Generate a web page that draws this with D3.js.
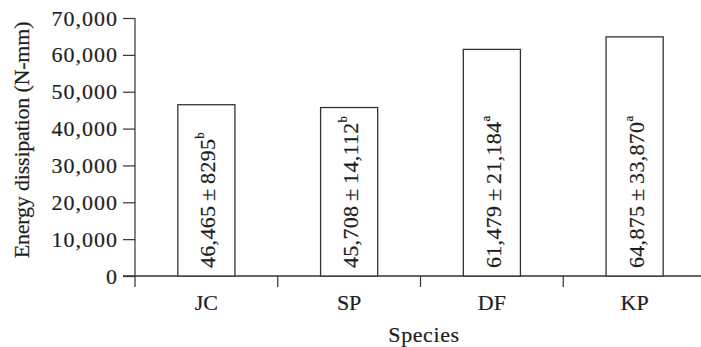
<!DOCTYPE html>
<html>
<head>
<meta charset="utf-8">
<script src="https://cdn.jsdelivr.net/npm/d3@7"></script>
<style>
  body { margin: 0; background: #fff; }
  svg text { font-family: "Liberation Serif", "Times New Roman", serif; fill: #1e1e1e; stroke: #1e1e1e; stroke-width: 0.2px; }
</style>
</head>
<body>
<svg id="chart" width="701" height="347"></svg>
<script>
// data
const species = ['JC', 'SP', 'DF', 'KP'];
const means = [46465, 45708, 61479, 64875];
const sds = [8295, 14112, 21184, 33870];
const groups = ['b', 'b', 'a', 'a'];
const yTicks = [0, 10000, 20000, 30000, 40000, 50000, 60000, 70000];

const svg = d3.select('#chart');
const axisColor = '#333';

// scales
const x = d3.scaleBand()
  .domain(species)
  .range([135, 706])
  .paddingInner(0.6)
  .paddingOuter(0.3);

const y = d3.scaleLinear()
  .domain([0, 70000])
  .range([276, 18]);

// y axis
const yAxis = svg.append('g')
  .attr('transform', 'translate(135,0)')
  .call(d3.axisLeft(y).tickValues(yTicks).tickFormat(d3.format(',')).tickSize(12).tickSizeOuter(0));
yAxis.select('.domain').remove();
yAxis.selectAll('.tick line').attr('stroke', axisColor).attr('stroke-width', 1.2);
yAxis.selectAll('.tick text')
  .attr('x', -17)
  .attr('font-size', 22)
  .attr('letter-spacing', 1)
  .attr('fill', '#1e1e1e');

// vertical axis line, running a bit below zero
svg.append('line')
  .attr('x1', 135).attr('x2', 135)
  .attr('y1', y(70000)).attr('y2', 287)
  .attr('stroke', axisColor).attr('stroke-width', 1.2);

// x axis line
svg.append('line')
  .attr('x1', 123).attr('x2', 701)
  .attr('y1', y(0)).attr('y2', y(0))
  .attr('stroke', axisColor).attr('stroke-width', 1.4);

// ticks between categories
const half = x.step() * x.paddingInner() / 2;
svg.selectAll('.sep')
  .data(species.slice(1))
  .enter()
  .append('line')
  .attr('class', 'sep')
  .attr('x1', (d) => x(d) - half)
  .attr('x2', (d) => x(d) - half)
  .attr('y1', y(0))
  .attr('y2', 287)
  .attr('stroke', axisColor)
  .attr('stroke-width', 1.2);

// bars
svg.selectAll('.bar')
  .data(species)
  .enter()
  .append('rect')
  .attr('class', 'bar')
  .attr('x', (d) => x(d))
  .attr('y', (d, i) => y(means[i]))
  .attr('width', x.bandwidth())
  .attr('height', (d, i) => y(0) - y(means[i]))
  .attr('fill', '#fff')
  .attr('stroke', axisColor)
  .attr('stroke-width', 1.3);

// values written up the bars
const fmt = d3.format(',');
const labels = svg.selectAll('.val')
  .data(species)
  .enter()
  .append('text')
  .attr('class', 'val')
  .attr('transform', (d) => `translate(${x(d) + x.bandwidth() / 2 + 1},268) rotate(-90)`)
  .attr('dy', '0.36em')
  .attr('font-size', 22)
  .attr('letter-spacing', 0.3);
labels.append('tspan')
  .text((d, i) => {
    const sd = sds[i] < 10000 ? String(sds[i]) : fmt(sds[i]);
    return `${fmt(means[i])}\u2009±\u2009${sd}`;
  });
labels.append('tspan')
  .attr('font-size', 13)
  .attr('dy', '-0.85em')
  .text((d, i) => groups[i]);

// category labels
svg.selectAll('.cat')
  .data(species)
  .enter()
  .append('text')
  .attr('class', 'cat')
  .attr('x', (d) => x(d) + x.bandwidth() / 2)
  .attr('y', 310)
  .attr('text-anchor', 'middle')
  .attr('font-size', 22)
  .text((d) => d);

// axis titles
svg.append('text')
  .attr('x', 424)
  .attr('y', 342)
  .attr('text-anchor', 'middle')
  .attr('font-size', 22)
  .attr('letter-spacing', 0.6)
  .text('Species');

svg.append('text')
  .attr('transform', 'translate(29,140) rotate(-90)')
  .attr('text-anchor', 'middle')
  .attr('font-size', 22)
  .attr('letter-spacing', -0.2)
  .text('Energy dissipation (N-mm)');
</script>
</body>
</html>
